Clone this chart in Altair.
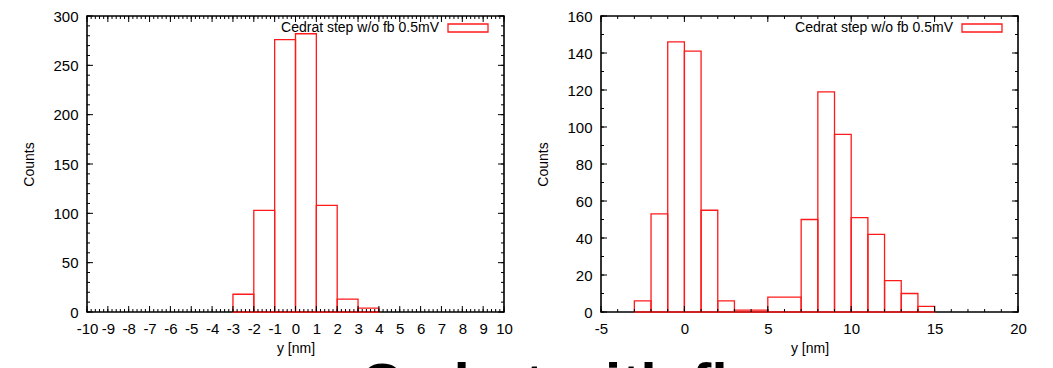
import altair as alt
import pandas as pd

# ---- data ----
left_lo = [-3, -2, -1, 0, 1, 2, 3]
left_hi = [-2, -1, 0, 1, 2, 3, 4]
left_counts = [18, 103, 276, 282, 108, 13, 4]

right_lo = [-3, -2, -1, 0, 1, 2, 3, 5, 7, 8, 9, 10, 11, 12, 13, 14]
right_hi = [-2, -1, 0, 1, 2, 3, 5, 7, 8, 9, 10, 11, 12, 13, 14, 15]
right_counts = [6, 53, 146, 141, 55, 6, 1, 8, 50, 119, 96, 51, 42, 17, 10, 3]

left_xticks = list(range(-10, 11))
left_xminor = [round(-10 + 0.2 * i, 1) for i in range(101)]
left_yticks = list(range(0, 301, 50))
left_yminor = list(range(0, 301, 10))

right_xticks = list(range(-5, 21, 5))
right_xminor = list(range(-5, 21, 1))
right_yticks = list(range(0, 161, 20))
right_yminor = list(range(0, 161, 10))

legend_label = "Cedrat step w/o fb 0.5mV"
slide_title = "Cedrat with fb"

W, H = 417, 296
FONT = "Liberation Sans"
RED = "#ff1a1a"


def tick_layers(vals, axis, length):
    if axis == "x":
        df = pd.DataFrame({"lo": vals})
        base = alt.Chart(df).mark_rule(color="black", strokeWidth=1)
        bottom = base.encode(y=alt.value(H), y2=alt.value(H - length))
        top = base.encode(y=alt.value(0), y2=alt.value(length))
        return [bottom, top]
    df = pd.DataFrame({"count": vals})
    base = alt.Chart(df).mark_rule(color="black", strokeWidth=1)
    left = base.encode(x=alt.value(0), x2=alt.value(length))
    right = base.encode(x=alt.value(W), x2=alt.value(W - length))
    return [left, right]


def panel(lo, hi, counts, xdom, xmaj, xmin, ydom, ymaj, ymin):
    df = pd.DataFrame({"lo": lo, "hi": hi, "count": counts})
    bars = alt.Chart(df).mark_rect(
        stroke=RED, strokeWidth=1.3, fill="white", fillOpacity=0
    ).encode(x2="hi:Q", y2=alt.datum(0))
    leg_df = pd.DataFrame({"t": [legend_label]})
    leg_text = alt.Chart(leg_df).mark_text(
        align="right", baseline="middle", font=FONT, fontSize=14, color="black"
    ).encode(text="t:N", x=alt.value(W - 65), y=alt.value(12))
    leg_box = alt.Chart(leg_df).mark_rect(
        stroke=RED, strokeWidth=1.3, fill="white", fillOpacity=0
    ).encode(x=alt.value(W - 56), x2=alt.value(W - 16), y=alt.value(8), y2=alt.value(16))
    layers = [bars]
    layers += tick_layers(xmin, "x", 3)
    layers += tick_layers(xmaj, "x", 6)
    layers += tick_layers(ymin, "y", 3)
    layers += tick_layers(ymaj, "y", 6)
    layers += [leg_text, leg_box]
    return alt.layer(*layers).encode(
        x=alt.X("lo:Q", scale=alt.Scale(domain=xdom, nice=False, zero=False),
                axis=alt.Axis(values=xmaj, title="y [nm]", labelOverlap=False,
                              labelFlush=False, labelExpr="'' + datum.value")),
        y=alt.Y("count:Q", scale=alt.Scale(domain=ydom, nice=False),
                axis=alt.Axis(values=ymaj, title="Counts", labelOverlap=False,
                              labelFlush=False, labelExpr="'' + datum.value")),
    ).properties(width=W, height=H)


left = panel(left_lo, left_hi, left_counts, [-10, 10], left_xticks, left_xminor,
             [0, 300], left_yticks, left_yminor)
right = panel(right_lo, right_hi, right_counts, [-5, 20], right_xticks, right_xminor,
              [0, 160], right_yticks, right_yminor)

chart = alt.hconcat(left, right, spacing=22).properties(
    title=alt.TitleParams(
        slide_title, orient="bottom", anchor="start", fontSize=58,
        fontWeight="bold", font=FONT, color="black", dx=338, offset=2
    ),
    padding={"left": 22, "top": 8, "right": 5, "bottom": 5},
).configure_view(
    stroke="black", strokeWidth=1.6
).configure_axis(
    domain=False, ticks=False, grid=False,
    labelFont=FONT, labelFontSize=15, labelColor="black",
    titleFont=FONT, titleFontSize=14, titleFontWeight="normal", titleColor="black",
    labelPadding=9, labelOverlap=False, labelFlush=False,
).configure_axisX(titlePadding=5).configure_axisY(titlePadding=16)

chart.save("out.html", embed_options={"renderer": "svg", "actions": False})
